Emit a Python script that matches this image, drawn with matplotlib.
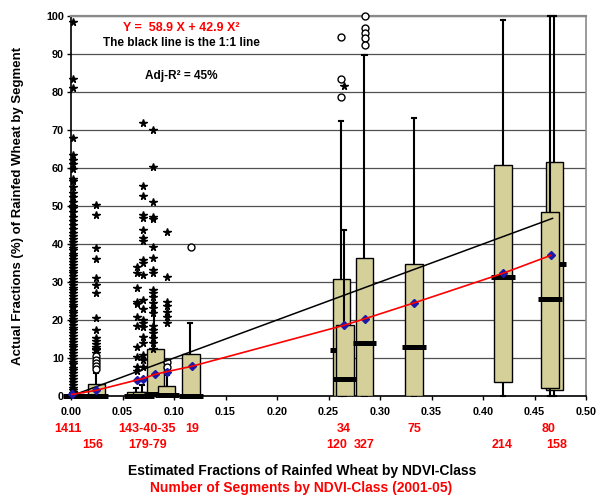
import matplotlib
matplotlib.use('Agg')
import matplotlib.pyplot as plt

plt.rcParams['font.family'] = ['Liberation Sans', 'DejaVu Sans']
plt.rcParams['font.weight'] = 'bold'

# ── Data ──────────────────────────────────────────────────────────────────────
# boxes, in drawing order (back to front where they overlap)
box_x   = [0.004, 0.0245, 0.063, 0.069, 0.082, 0.093, 0.1165, 0.2627, 0.266, 0.285, 0.333, 0.4195, 0.4695, 0.465]
box_q1  = [0, 0, 0, 0, 0.5, 0, 0, 0, 0, 0, 0, 3.8, 1.6, 2.0]
box_med = [0, 0, 0, 0, 0.5, 0.3, 0, 12.0, 4.5, 13.9, 12.8, 31.4, 34.7, 25.6]
box_q3  = [0.5, 3.2, 1.0, 1.0, 12.4, 2.6, 11.0, 30.8, 18.7, 36.3, 34.7, 60.8, 61.5, 48.4]
box_lo  = [0, 0, 0, 0, 0, 0, 0, 0, 0, 0, 0, 0, 0, 0]
box_hi  = [1, 6, 2, 3, 24.4, 5.5, 19.1, 72.3, 43.7, 89.7, 73.2, 98.9, 100, 100]
whisk_x = [0.004, 0.0245, 0.063, 0.069, 0.081, 0.093, 0.1155, 0.2625, 0.265, 0.2849, 0.333, 0.4195, 0.469, 0.465]

# outliers: extreme (stars) and mild (circles)
star_x_1411 = 0.002
star_y_1411 = [0.8, 1.5, 2.2, 3, 3.7, 4.5, 5.2, 6, 6.8, 7.5, 8.3, 9, 9.8, 10.5, 11.3, 12,
               12.8, 13.5, 14.3, 15, 15.8, 16.5, 17.3, 18, 18.8, 19.5, 20.3, 21, 21.8,
               22.5, 23.3, 24, 24.8, 25.5, 26.3, 27, 27.8, 28.5, 29.3, 30, 30.8, 31.5,
               32.3, 33, 33.8, 34.5, 35.3, 36, 36.8, 37.5, 38.3, 39, 39.8, 40.5, 41.3,
               42, 43, 44, 45, 46, 47, 48.5, 49.5, 50, 51, 52.5, 53.5, 55, 56.5, 57,
               59.8, 61, 62, 63.4, 67.8, 81, 83.3, 98.5]
star_x_156 = 0.024
star_y_156 = [50.3, 47.6, 38.9, 36, 31, 29.2, 27, 20.4, 17.5, 15.2, 14.5, 13.8, 13, 12.5, 12, 11.3]
circ_y_156 = [10.5, 9.6, 8.7, 7.8, 7.0]

star_x_a = 0.0638
star_y_a = [33.9, 32.3, 28.3, 24.8, 24.1, 20.9, 18.4, 13, 10.3, 7.7, 6.5]
star_x_b = 0.070
star_y_b = [71.9, 55.3, 52.6, 47.6, 46.8, 43.7, 41.5, 40.9, 35.8, 34.9, 31.8, 25.3, 23,
            20, 19.2, 18.2, 15.6, 13.9, 10.8, 9.5, 7.7]
star_x_c = 0.080
star_y_c = [70, 60.2, 51.1, 47.2, 46.5, 39.3, 36.2, 33.2, 32.3, 27.9, 27, 26.1, 24.4,
            23.2, 21.8, 18.4, 17.5, 16.5, 15.2, 14, 12.5]
star_x_d = 0.093
star_y_d = [43.2, 31.2, 24.8, 23.6, 22, 20.9, 19.1]
circ_x_d = 0.093
circ_y_d = [9.0, 7.7]

circ_x_19 = 0.1165
circ_y_19 = [39.3]
circ_x_34 = 0.2625
circ_y_34 = [94.4, 83.5, 78.6]
star_x_34 = 0.265
star_y_34 = [81.7]
circ_x_327 = 0.285
circ_y_327 = [99.9, 96.9, 95.6, 94.2, 92.4]

# class means (blue diamonds) and the fitted line through them
mean_x = [0.0007, 0.0245, 0.0638, 0.070, 0.0816, 0.093, 0.117, 0.265, 0.285, 0.333, 0.4195, 0.4658]
mean_y = [0.4, 1.5, 4.2, 4.6, 5.7, 6.4, 7.8, 18.6, 20.3, 24.5, 32.3, 37.0]

# 1:1 line end points
line11_x = [0.0, 0.4675]
line11_y = [0.0, 46.75]

# segment counts under the axis (two rows)
count_row1 = ['1411', '143-40-35', '19', '34', '75', '80']
count_row1_px = [68, 147, 192, 344, 414, 549]
count_row2 = ['156', '179-79', '120', '327', '214', '158']
count_row2_px = [93, 148, 337, 364, 502, 557]

# ── Plot ──────────────────────────────────────────────────────────────────────
W, H = 598, 496
fig = plt.figure(figsize=(W / 100, H / 100), dpi=100)
ax = fig.add_axes([71 / W, 100 / H, 515 / W, 380 / H])
ax.set_xlim(0, 0.5)
ax.set_ylim(0, 100)

ax.set_yticks(range(0, 101, 10))
ax.set_xticks([i * 0.05 for i in range(11)])
ax.set_xticklabels([f'{i * 0.05:.2f}' for i in range(11)])
ax.tick_params(axis='both', labelsize=7.8, length=3, width=1, direction='out')
ax.tick_params(axis='x', pad=5)
ax.tick_params(axis='y', pad=2)
ax.grid(axis='y', color='#505050', lw=0.9, zorder=0)
ax.set_axisbelow(True)
for s in ['left', 'bottom']:
    ax.spines[s].set_color('black')
    ax.spines[s].set_linewidth(1.2)
ax.spines['top'].set_color('#8a8a8a')
ax.spines['top'].set_linewidth(1.6)
ax.spines['right'].set_color('#8a8a8a')
ax.spines['right'].set_linewidth(1.2)

bw = 0.0168
cap = 0.002
for i in range(len(box_x)):
    x, wx = box_x[i], whisk_x[i]
    z = 3 + i * 0.1
    ax.plot([wx, wx], [box_q3[i], box_hi[i]], color='black', lw=1.5, zorder=z, clip_on=False)
    ax.plot([wx, wx], [box_lo[i], box_q1[i]], color='black', lw=1.5, zorder=z, clip_on=False)
    ax.plot([wx - cap, wx + cap], [box_hi[i], box_hi[i]], color='black', lw=1.5, zorder=z, clip_on=False)
    ax.plot([wx - cap, wx + cap], [box_lo[i], box_lo[i]], color='black', lw=1.5, zorder=z, clip_on=False)
    ax.add_patch(plt.Rectangle((x - bw / 2, box_q1[i]), bw, box_q3[i] - box_q1[i],
                               facecolor='#D5D09A', edgecolor='black', lw=1.0, zorder=z + 0.02))
    ax.plot([x - bw / 2 - 0.003, x + bw / 2 + 0.003], [box_med[i], box_med[i]],
            color='black', lw=3.6, solid_capstyle='butt', zorder=z + 0.04, clip_on=False)

star_kw = dict(marker='*', ms=5.6, color='black', ls='none', zorder=5, clip_on=False)
circ_kw = dict(marker='o', ms=5, mfc='white', mec='black', mew=1, ls='none', zorder=5, clip_on=False)

ax.plot([star_x_1411] * len(star_y_1411), star_y_1411, **star_kw)
ax.plot([star_x_156] * len(star_y_156), star_y_156, **star_kw)
ax.plot([star_x_156] * len(circ_y_156), circ_y_156, **circ_kw)
ax.plot([star_x_a] * len(star_y_a), star_y_a, **star_kw)
ax.plot([star_x_b] * len(star_y_b), star_y_b, **star_kw)
ax.plot([star_x_c] * len(star_y_c), star_y_c, **star_kw)
ax.plot([star_x_d] * len(star_y_d), star_y_d, **star_kw)
ax.plot([circ_x_d] * len(circ_y_d), circ_y_d, **circ_kw)
ax.plot([circ_x_19] * len(circ_y_19), circ_y_19, **circ_kw)
ax.plot([circ_x_34] * len(circ_y_34), circ_y_34, **circ_kw)
ax.plot([star_x_34] * len(star_y_34), star_y_34, **star_kw)
ax.plot([circ_x_327] * len(circ_y_327), circ_y_327, **circ_kw)

ax.plot(line11_x, line11_y, color='black', lw=1.1, zorder=6)
ax.plot(mean_x, mean_y, 'D', ms=4.5, color='#1a1aa8', zorder=7, clip_on=False)
ax.plot(mean_x, mean_y, color='#ff0000', lw=1.2, zorder=8, clip_on=False)

# annotations
fig.text(181 / W, 1 - 28 / H, 'Y =  58.9 X + 42.9 X²', color='#ff0000', fontsize=9,
         ha='center', va='center', fontweight='bold')
fig.text(181 / W, 1 - 43 / H, 'The black line is the 1:1 line', color='black', fontsize=8.5,
         ha='center', va='center', fontweight='bold')
fig.text(181 / W, 1 - 76 / H, 'Adj-R² = 45%', color='black', fontsize=8.5,
         ha='center', va='center', fontweight='bold')

for lbl, px in zip(count_row1, count_row1_px):
    fig.text(px / W, 1 - 429 / H, lbl, color='#ff0000', fontsize=9, ha='center', va='center',
             fontweight='bold')
for lbl, px in zip(count_row2, count_row2_px):
    fig.text(px / W, 1 - 445 / H, lbl, color='#ff0000', fontsize=9, ha='center', va='center',
             fontweight='bold')

fig.text(302 / W, 1 - 471 / H, 'Estimated Fractions of Rainfed Wheat by NDVI-Class',
         color='black', fontsize=10, ha='center', va='center', fontweight='bold')
fig.text(301 / W, 1 - 488 / H, 'Number of Segments by NDVI-Class (2001-05)',
         color='#ff0000', fontsize=10, ha='center', va='center', fontweight='bold')
fig.text(18 / W, 1 - 206 / H, 'Actual Fractions (%) of Rainfed Wheat by Segment',
         color='black', fontsize=9.5, ha='center', va='center', rotation=90, fontweight='bold')

fig.savefig('out.png', dpi=100)
